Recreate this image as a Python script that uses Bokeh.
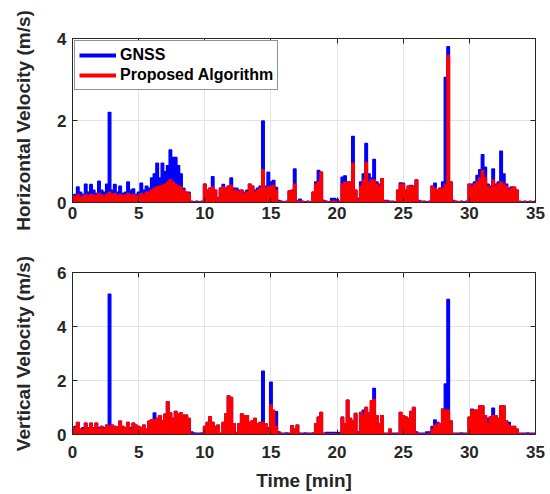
from bokeh.plotting import figure
from bokeh.models import (Range1d, FixedTicker, Legend, LegendItem, LinearAxis,
                          ColumnDataSource)
from bokeh.layouts import column
from bokeh.embed import file_html
from bokeh.resources import INLINE

# time samples [min], one every 0.2 min
TIME = [round(0.2 * i, 1) for i in range(176)]

# Horizontal velocity (m/s)
H_GNSS = [
    0.05, 0.20, 0.38, 0.25, 0.20, 0.45, 0.25, 0.44, 0.30, 0.22,
    0.52, 0.30, 0.25, 0.45, 2.20, 0.30, 0.44, 0.25, 0.40, 0.22,
    0.25, 0.50, 0.30, 0.33, 0.20, 0.25, 0.47, 0.30, 0.40, 0.35,
    0.60, 0.70, 0.96, 0.60, 0.96, 0.75, 0.90, 1.28, 1.10, 1.10,
    0.90, 0.70, 0.35, 0.25, 0.25, 0.03, 0.02, 0.03, 0.02, 0.03,
    0.45, 0.30, 0.35, 0.63, 0.30, 0.12, 0.35, 0.44, 0.35, 0.40,
    0.60, 0.35, 0.35, 0.30, 0.30, 0.25, 0.30, 0.45, 0.40, 0.30,
    0.35, 0.40, 1.99, 0.40, 0.74, 0.50, 0.54, 0.37, 0.05, 0.03,
    0.02, 0.03, 0.28, 0.30, 0.82, 0.05, 0.08, 0.03, 0.02, 0.03,
    0.02, 0.25, 0.50, 0.78, 0.74, 0.05, 0.03, 0.02, 0.10, 0.10,
    0.08, 0.03, 0.62, 0.65, 0.50, 0.50, 1.61, 0.30, 0.10, 0.50,
    0.70, 1.44, 0.70, 0.60, 1.05, 0.50, 0.45, 0.58, 0.05, 0.05,
    0.03, 0.03, 0.02, 0.30, 0.48, 0.47, 0.30, 0.40, 0.42, 0.40,
    0.55, 0.05, 0.03, 0.03, 0.02, 0.03, 0.40, 0.47, 0.30, 0.35,
    0.50, 3.05, 3.80, 0.50, 0.05, 0.03, 0.02, 0.03, 0.02, 0.03,
    0.45, 0.45, 0.50, 0.66, 0.80, 1.17, 0.86, 0.45, 0.40, 0.82,
    0.45, 0.50, 1.25, 0.70, 0.45, 0.35, 0.38, 0.35, 0.30, 0.03,
    0.02, 0.03, 0.02, 0.03, 0.02, 0.03,
]
H_PROP = [
    0.05, 0.15, 0.20, 0.12, 0.15, 0.20, 0.15, 0.20, 0.18, 0.15,
    0.22, 0.18, 0.15, 0.20, 0.25, 0.20, 0.22, 0.15, 0.20, 0.16,
    0.18, 0.22, 0.16, 0.20, 0.15, 0.16, 0.22, 0.18, 0.25, 0.25,
    0.30, 0.35, 0.38, 0.40, 0.42, 0.45, 0.50, 0.56, 0.50, 0.45,
    0.40, 0.38, 0.30, 0.25, 0.22, 0.02, 0.01, 0.02, 0.01, 0.02,
    0.45, 0.30, 0.35, 0.38, 0.30, 0.10, 0.35, 0.38, 0.32, 0.40,
    0.42, 0.30, 0.30, 0.25, 0.30, 0.20, 0.25, 0.45, 0.40, 0.25,
    0.30, 0.35, 0.80, 0.35, 0.38, 0.40, 0.42, 0.30, 0.02, 0.02,
    0.02, 0.02, 0.28, 0.28, 0.45, 0.03, 0.03, 0.02, 0.01, 0.02,
    0.02, 0.25, 0.45, 0.50, 0.74, 0.03, 0.02, 0.02, 0.03, 0.03,
    0.03, 0.02, 0.45, 0.50, 0.48, 0.50, 0.96, 0.30, 0.08, 0.40,
    0.55, 0.98, 0.50, 0.55, 0.55, 0.45, 0.40, 0.58, 0.03, 0.03,
    0.02, 0.02, 0.01, 0.30, 0.45, 0.45, 0.30, 0.40, 0.40, 0.38,
    0.55, 0.03, 0.02, 0.02, 0.01, 0.02, 0.40, 0.35, 0.30, 0.35,
    0.35, 0.45, 3.59, 0.50, 0.03, 0.02, 0.02, 0.02, 0.01, 0.02,
    0.45, 0.35, 0.45, 0.50, 0.60, 0.78, 0.60, 0.40, 0.35, 0.55,
    0.40, 0.45, 0.50, 0.45, 0.40, 0.30, 0.35, 0.38, 0.30, 0.02,
    0.01, 0.02, 0.01, 0.02, 0.01, 0.02,
]

# Vertical velocity (m/s)
V_GNSS = [
    0.05, 0.30, 0.45, 0.20, 0.25, 0.42, 0.25, 0.42, 0.25, 0.42,
    0.25, 0.30, 0.25, 0.35, 5.20, 0.35, 0.30, 0.28, 0.49, 0.30,
    0.25, 0.45, 0.25, 0.42, 0.35, 0.30, 0.25, 0.35, 0.20, 0.49,
    0.55, 0.80, 0.60, 0.70, 0.50, 0.75, 1.22, 0.80, 0.60, 0.86,
    0.75, 0.80, 0.72, 0.72, 0.60, 0.10, 0.06, 0.05, 0.05, 0.06,
    0.30, 0.45, 0.66, 0.45, 0.30, 0.35, 0.05, 0.45, 0.76, 1.43,
    1.37, 0.40, 0.08, 0.40, 0.76, 0.70, 0.70, 0.45, 0.50, 0.60,
    0.40, 0.45, 2.35, 0.40, 0.25, 1.94, 0.85, 0.85, 0.10, 0.05,
    0.05, 0.06, 0.05, 0.33, 0.20, 0.35, 0.05, 0.05, 0.06, 0.05,
    0.05, 0.06, 0.40, 0.64, 0.82, 0.05, 0.08, 0.08, 0.08, 0.08,
    0.08, 0.08, 0.64, 0.40, 1.27, 0.60, 0.50, 0.78, 0.10, 0.82,
    0.90, 1.00, 0.80, 0.90, 1.71, 0.70, 0.40, 0.70, 0.05, 0.05,
    0.20, 0.05, 0.05, 0.05, 0.82, 0.70, 0.65, 0.60, 0.86, 1.00,
    0.10, 0.05, 0.05, 0.05, 0.10, 0.10, 0.30, 0.54, 0.45, 0.40,
    0.94, 1.87, 5.00, 0.50, 0.05, 0.05, 0.05, 0.06, 0.05, 0.05,
    0.64, 0.94, 0.90, 0.90, 1.06, 1.06, 0.70, 0.60, 0.65, 0.98,
    0.70, 0.60, 1.06, 1.06, 0.50, 0.45, 0.30, 0.30, 0.20, 0.05,
    0.05, 0.05, 0.06, 0.05, 0.05, 0.05,
]
V_PROP = [
    0.05, 0.25, 0.45, 0.20, 0.20, 0.42, 0.20, 0.42, 0.22, 0.42,
    0.22, 0.30, 0.20, 0.35, 0.30, 0.35, 0.30, 0.25, 0.49, 0.30,
    0.25, 0.45, 0.20, 0.42, 0.35, 0.30, 0.25, 0.35, 0.20, 0.49,
    0.55, 0.55, 0.60, 0.70, 0.50, 0.75, 1.22, 0.80, 0.60, 0.86,
    0.75, 0.80, 0.72, 0.72, 0.60, 0.02, 0.01, 0.01, 0.01, 0.01,
    0.30, 0.45, 0.66, 0.45, 0.30, 0.35, 0.02, 0.45, 0.76, 1.43,
    1.37, 0.40, 0.05, 0.40, 0.76, 0.70, 0.70, 0.45, 0.50, 0.60,
    0.40, 0.45, 0.45, 0.40, 0.20, 1.10, 0.90, 0.30, 0.05, 0.02,
    0.02, 0.02, 0.02, 0.33, 0.20, 0.35, 0.02, 0.02, 0.02, 0.02,
    0.02, 0.02, 0.40, 0.64, 0.82, 0.03, 0.02, 0.02, 0.02, 0.02,
    0.02, 0.02, 0.64, 0.40, 1.27, 0.60, 0.50, 0.78, 0.05, 0.82,
    0.70, 1.00, 0.80, 1.25, 1.30, 0.70, 0.40, 0.70, 0.03, 0.02,
    0.20, 0.02, 0.02, 0.02, 0.82, 0.70, 0.65, 0.60, 0.86, 1.00,
    0.05, 0.02, 0.02, 0.02, 0.02, 0.02, 0.20, 0.35, 0.40, 0.40,
    0.94, 0.90, 0.90, 0.50, 0.03, 0.02, 0.02, 0.02, 0.02, 0.02,
    0.64, 0.90, 0.90, 0.90, 1.06, 1.06, 0.70, 0.40, 0.65, 0.70,
    0.70, 0.60, 1.06, 1.06, 0.50, 0.35, 0.30, 0.30, 0.20, 0.03,
    0.02, 0.02, 0.02, 0.02, 0.02, 0.02,
]

X_TICKS = [0, 5, 10, 15, 20, 25, 30, 35]
H_TICKS = [0, 2, 4]
V_TICKS = [0, 2, 4, 6]
SERIES_NAMES = ["GNSS", "Proposed Algorithm"]

FONT = "Liberation Sans"
INK = "#262626"
GRID = "#e3e3e3"
BLUE = "#0000ff"
RED = "#ff0000"

src = ColumnDataSource(dict(t=TIME, hb=H_GNSS, hr=H_PROP, vb=V_GNSS, vr=V_PROP))


def make_fig(height, ymax, yticks, ylabel, top, bottom, xlabel=None):
    p = figure(width=550, height=height, output_backend="svg", toolbar_location=None,
               x_range=Range1d(0, 35), y_range=Range1d(0, ymax),
               min_border_left=72, min_border_right=15,
               min_border_top=top, min_border_bottom=bottom)
    p.background_fill_color = "white"
    p.border_fill_color = "white"
    p.outline_line_color = INK
    p.outline_line_width = 1
    p.xaxis.ticker = FixedTicker(ticks=X_TICKS)
    p.yaxis.ticker = FixedTicker(ticks=yticks)
    for ax in (p.xaxis[0], p.yaxis[0]):
        ax.axis_line_color = INK
        ax.major_tick_line_color = INK
        ax.major_tick_in = 5
        ax.major_tick_out = 0
        ax.minor_tick_line_color = None
        ax.major_label_text_font = FONT
        ax.major_label_text_font_style = "bold"
        ax.major_label_text_font_size = "17px"
        ax.major_label_text_color = INK
        ax.axis_label_text_font = FONT
        ax.axis_label_text_font_style = "bold"
        ax.axis_label_text_font_size = "19px"
        ax.axis_label_text_color = INK
    p.yaxis.axis_label = ylabel
    p.yaxis.major_label_standoff = 6
    p.yaxis.axis_label_standoff = 20
    if xlabel:
        p.xaxis.major_label_standoff = 11
        p.xaxis.axis_label = xlabel
        p.xaxis.axis_label_standoff = 9
    else:
        p.xaxis.major_label_standoff = 4
    # inward ticks on top and right (box on), without labels
    top_ax = LinearAxis(ticker=FixedTicker(ticks=X_TICKS), major_label_text_font_size="0px",
                        major_label_text_color=None,
                        axis_line_color=None, major_tick_in=5, major_tick_out=0,
                        major_tick_line_color=INK, minor_tick_line_color=None,
                        major_label_standoff=0)
    right_ax = LinearAxis(ticker=FixedTicker(ticks=yticks), major_label_text_font_size="0px",
                          major_label_text_color=None,
                          axis_line_color=None, major_tick_in=5, major_tick_out=0,
                          major_tick_line_color=INK, minor_tick_line_color=None,
                          major_label_standoff=0)
    p.add_layout(top_ax, "above")
    p.add_layout(right_ax, "right")
    p.xgrid.ticker = FixedTicker(ticks=X_TICKS)
    p.ygrid.ticker = FixedTicker(ticks=yticks)
    p.xgrid.grid_line_color = GRID
    p.ygrid.grid_line_color = GRID
    return p


def draw(p, ycol_b, ycol_r):
    p.varea_step(x="t", y1=0, y2=ycol_b, step_mode="center", source=src,
                 fill_color=BLUE)
    p.step(x="t", y=ycol_b, mode="center", source=src, line_color=BLUE, line_width=1.3)
    p.varea_step(x="t", y1=0, y2=ycol_r, step_mode="center", source=src,
                 fill_color=RED)
    p.step(x="t", y=ycol_r, mode="center", source=src, line_color=RED, line_width=1.3)


p1 = make_fig(232, 4, H_TICKS, "Horizontal Velocity (m/s)", 38, 30)
draw(p1, "hb", "hr")
# legend-only line renderers (a single sample draws no visible line)
lb = p1.line(x=TIME[:1], y=H_GNSS[:1], line_color=BLUE, line_width=4)
lr = p1.line(x=TIME[:1], y=H_PROP[:1], line_color=RED, line_width=4)
legend = Legend(items=[LegendItem(label=SERIES_NAMES[0], renderers=[lb]),
                       LegendItem(label=SERIES_NAMES[1], renderers=[lr])],
                location="top_left")
legend.margin = 2
legend.padding = 4
legend.spacing = 0
legend.glyph_width = 37
legend.glyph_height = 20
legend.label_height = 20
legend.label_standoff = 4
legend.label_text_font = FONT
legend.label_text_font_style = "bold"
legend.label_text_font_size = "16px"
legend.label_text_color = "black"
legend.border_line_color = INK
legend.border_line_width = 1
legend.background_fill_color = "white"
legend.background_fill_alpha = 1
p1.add_layout(legend)

p2 = make_fig(262, 6, V_TICKS, "Vertical Velocity (m/s)", 40, 60, xlabel="Time [min]")
draw(p2, "vb", "vr")

layout = column(p1, p2, spacing=0)
open("out.html", "w").write(file_html(layout, INLINE))
